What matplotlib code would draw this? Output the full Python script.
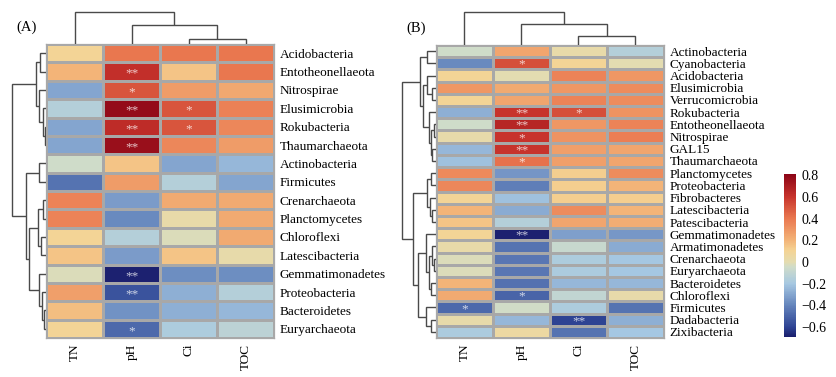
import matplotlib
matplotlib.use('Agg')
import matplotlib.pyplot as plt
from matplotlib.colors import LinearSegmentedColormap, Normalize
import numpy as np

plt.rcParams['font.family'] = ['Liberation Serif', 'DejaVu Serif']

cols = ['TN', 'pH', 'Ci', 'TOC']

# panel A (rows in plotted order)
rows_a = ['Acidobacteria', 'Entotheonellaeota', 'Nitrospirae', 'Elusimicrobia',
          'Rokubacteria', 'Thaumarchaeota', 'Actinobacteria', 'Firmicutes',
          'Crenarchaeota', 'Planctomycetes', 'Chloroflexi', 'Latescibacteria',
          'Gemmatimonadetes', 'Proteobacteria', 'Bacteroidetes', 'Euryarchaeota']
vals_a = [[0.10, 0.40, 0.40, 0.40],
          [0.20, 0.62, 0.15, 0.40],
          [-0.30, 0.50, 0.28, 0.24],
          [-0.15, 0.78, 0.50, 0.37],
          [-0.30, 0.63, 0.50, 0.35],
          [-0.30, 0.76, 0.35, 0.28],
          [-0.05, 0.15, -0.30, -0.25],
          [-0.45, 0.28, -0.15, -0.30],
          [0.36, -0.33, 0.23, 0.23],
          [0.36, -0.38, 0.03, 0.23],
          [0.10, -0.15, -0.02, 0.23],
          [0.15, -0.33, 0.15, 0.02],
          [-0.02, -0.68, -0.37, -0.37],
          [0.27, -0.55, -0.27, -0.15],
          [0.17, -0.36, -0.27, -0.25],
          [0.10, -0.48, -0.17, -0.12]]
sig_a = [['', '', '', ''],
         ['', '**', '', ''],
         ['', '*', '', ''],
         ['', '**', '*', ''],
         ['', '**', '*', ''],
         ['', '**', '', ''],
         ['', '', '', ''],
         ['', '', '', ''],
         ['', '', '', ''],
         ['', '', '', ''],
         ['', '', '', ''],
         ['', '', '', ''],
         ['', '**', '', ''],
         ['', '**', '', ''],
         ['', '', '', ''],
         ['', '*', '', '']]
# linkage trees: (left, right, height)
tree_rows_a = (((0, 1, 5.7), (2, (3, (4, 5, 1.0), 2.7), 6.7), 10),
               ((6, 7, 6.7),
                (((8, 9, 3), (10, 11, 5.3), 8),
                 (12, (13, (14, 15, 2.0), 3.7), 6.7), 17), 20), 34)
tree_cols_a = (0, (1, (2, 3, 5), 19), 32)

# panel B
rows_b = ['Actinobacteria', 'Cyanobacteria', 'Acidobacteria', 'Elusimicrobia',
          'Verrucomicrobia', 'Rokubacteria', 'Entotheonellaeota', 'Nitrospirae',
          'GAL15', 'Thaumarchaeota', 'Planctomycetes', 'Proteobacteria',
          'Fibrobacteres', 'Latescibacteria', 'Patescibacteria', 'Gemmatimonadetes',
          'Armatimonadetes', 'Crenarchaeota', 'Euryarchaeota', 'Bacteroidetes',
          'Chloroflexi', 'Firmicutes', 'Dadabacteria', 'Zixibacteria']
vals_b = [[-0.05, 0.25, 0.03, -0.15],
          [-0.38, 0.52, 0.10, 0.00],
          [0.10, 0.00, 0.36, 0.30],
          [0.30, 0.23, 0.30, 0.33],
          [0.10, 0.25, 0.36, 0.33],
          [-0.27, 0.60, 0.52, 0.31],
          [-0.05, 0.66, 0.30, 0.36],
          [0.02, 0.60, 0.31, 0.38],
          [-0.25, 0.60, 0.27, 0.25],
          [-0.22, 0.42, 0.27, 0.25],
          [0.34, -0.35, 0.12, 0.33],
          [0.35, -0.42, 0.12, 0.20],
          [0.10, -0.22, 0.12, 0.12],
          [0.20, -0.28, 0.33, 0.20],
          [0.15, -0.15, 0.25, 0.22],
          [0.10, -0.68, -0.32, -0.34],
          [0.03, -0.45, -0.08, -0.28],
          [-0.02, -0.44, -0.17, -0.20],
          [-0.02, -0.44, -0.18, -0.20],
          [0.20, -0.46, -0.25, -0.25],
          [0.23, -0.50, -0.10, 0.02],
          [-0.48, -0.04, -0.17, -0.45],
          [0.02, -0.25, -0.60, -0.27],
          [-0.18, 0.05, -0.45, -0.20]]
sig_b = [['', '', '', ''],
         ['', '*', '', ''],
         ['', '', '', ''],
         ['', '', '', ''],
         ['', '', '', ''],
         ['', '**', '*', ''],
         ['', '**', '', ''],
         ['', '*', '', ''],
         ['', '**', '', ''],
         ['', '*', '', ''],
         ['', '', '', ''],
         ['', '', '', ''],
         ['', '', '', ''],
         ['', '', '', ''],
         ['', '', '', ''],
         ['', '**', '', ''],
         ['', '', '', ''],
         ['', '', '', ''],
         ['', '', '', ''],
         ['', '', '', ''],
         ['', '*', '', ''],
         ['*', '', '', ''],
         ['', '', '**', ''],
         ['', '', '', '']]
tree_rows_b = (((0, 1, 8.7),
                ((2, (3, 4, 4.3), 9.3),
                 (5, ((6, 7, 2.0), (8, 9, 3.5), 5), 7), 12.7), 16),
               (((10, 11, 5), (12, (13, 14, 4), 6), 9),
                ((15, (((16, (17, 18, 2), 4), (19, 20, 4.5), 6.5)), 9.5),
                 (21, (22, 23, 5), 10), 17.7), 22.7), 33.7)
tree_cols_b = (0, (1, (2, 3, 9), 21), 33)

vmin, vmax = -0.69, 0.81
cbar_ticks = [-0.6, -0.4, -0.2, 0, 0.2, 0.4, 0.6, 0.8]

cmap = LinearSegmentedColormap.from_list('rdylbu_soft', [
    (0.00, '#1b1f6e'), (0.06, '#2e4494'), (0.193, '#6484bc'),
    (0.327, '#a6c8e2'), (0.43, '#d0dcc8'), (0.46, '#e4dcb0'),
    (0.53, '#f4d394'), (0.593, '#f3b478'), (0.727, '#ea7850'),
    (0.86, '#c8342c'), (1.00, '#8c0416')])
norm = Normalize(vmin, vmax)

W, H = 836, 377
fig = plt.figure(figsize=(W / 100, H / 100), dpi=100)
line_col = '#4a4a4a'


def fx(px):
    return px / W


def fy(py):
    return 1 - py / H


def draw_tree(ax, node, horiz):
    if isinstance(node, int):
        return node + 0.5, 0.0
    a, b, h = node
    pa, ha = draw_tree(ax, a, horiz)
    pb, hb = draw_tree(ax, b, horiz)
    if horiz:
        ax.plot([ha, h, h, hb], [pa, pa, pb, pb], color=line_col, lw=1.0,
                solid_joinstyle='miter', solid_capstyle='butt')
    else:
        ax.plot([pa, pa, pb, pb], [ha, h, h, hb], color=line_col, lw=1.0,
                solid_joinstyle='miter', solid_capstyle='butt')
    return (pa + pb) / 2, h


def panel(x0, y0, y1, rows, vals, sig, trow, tcol, tag, tagxy):
    n = len(rows)
    v = np.array(vals)
    hx, hw = x0, 228
    ax = fig.add_axes([fx(hx), fy(y1), fx(hw), (y1 - y0) / H])
    ax.pcolormesh(np.arange(5), np.arange(n + 1), v, cmap=cmap, norm=norm,
                  edgecolors='#a8a8a8', linewidth=0.9)
    ax.set_xlim(0, 4)
    ax.set_ylim(n, 0)
    for i in range(n):
        for j in range(4):
            if sig[i][j]:
                ax.text(j + 0.5, i + 0.62, sig[i][j], ha='center', va='center',
                        fontsize=9.5, color='white', alpha=0.75)
    ax.yaxis.tick_right()
    ax.set_yticks(np.arange(n) + 0.5)
    ax.set_yticklabels(rows, fontsize=9.5)
    ax.set_xticks(np.arange(4) + 0.5)
    ax.set_xticklabels(cols, rotation=90, fontsize=9.5)
    ax.tick_params(length=0, pad=4)
    for s in ax.spines.values():
        s.set_color('#a8a8a8')
        s.set_linewidth(0.9)

    # row dendrogram
    dr = fig.add_axes([fx(hx - 46), fy(y1), fx(46), (y1 - y0) / H])
    draw_tree(dr, trow, True)
    dr.set_xlim(46, 0)
    dr.set_ylim(n, 0)
    dr.axis('off')

    # column dendrogram
    dc = fig.add_axes([fx(hx), fy(y0), fx(hw), y0 / H])
    draw_tree(dc, tcol, False)
    dc.set_xlim(0, 4)
    dc.set_ylim(0, y0)
    dc.axis('off')

    fig.text(fx(tagxy[0]), fy(tagxy[1]), tag, fontsize=10.5,
             ha='left', va='center')


panel(46, 44, 338, rows_a, vals_a, sig_a, tree_rows_a, tree_cols_a, '(A)', (16, 27))
panel(436, 45, 338, rows_b, vals_b, sig_b, tree_rows_b, tree_cols_b, '(B)', (406, 28))

cax = fig.add_axes([fx(784), fy(337), fx(12), 163 / H])
sm = plt.cm.ScalarMappable(norm=norm, cmap=cmap)
cb = fig.colorbar(sm, cax=cax, ticks=cbar_ticks)
cb.outline.set_visible(False)
cb.ax.set_yticklabels(['\u22120.6', '\u22120.4', '\u22120.2', '0', '0.2', '0.4', '0.6', '0.8'])
cb.ax.tick_params(length=0, pad=4, labelsize=10)

fig.savefig('out.png', dpi=100)
